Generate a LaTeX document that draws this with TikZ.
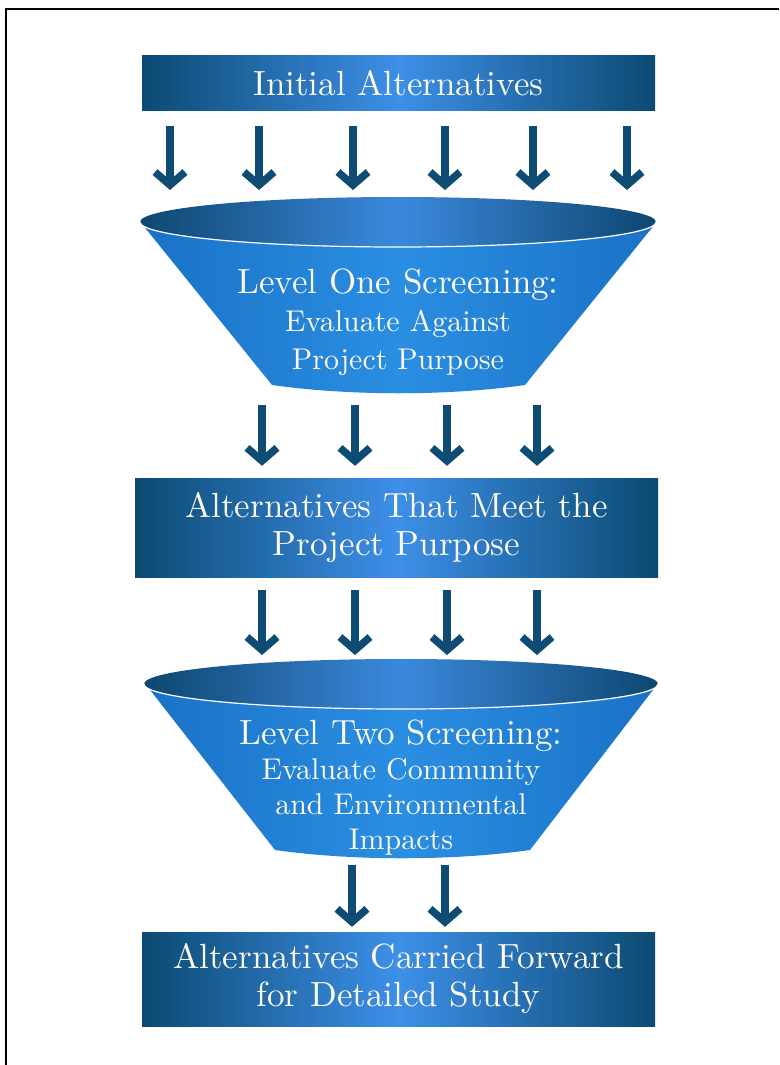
\documentclass[tikz,border=0pt]{standalone}
\usepackage{fontspec}
\setmainfont{lmroman10-regular}[Extension=.otf]
\usepackage{tikz}
\usetikzlibrary{arrows.meta, positioning, calc}

\definecolor{boxdark}{HTML}{0B4A72}
\definecolor{boxlight}{HTML}{3D8FE8}
\definecolor{bodydark}{HTML}{1A72C6}
\definecolor{bodylight}{HTML}{2A8EE2}
\definecolor{rimdark}{HTML}{0E4770}
\definecolor{rimlight}{HTML}{3B89DD}
\definecolor{arrowblue}{HTML}{0E4C73}
\definecolor{cream}{HTML}{FBF8EC}

\begin{document}
\begin{tikzpicture}[
    x=1pt, y=-1pt,
    stagebox/.style={minimum width=513pt, inner sep=0pt, align=center, text=cream,
      left color=boxdark, right color=boxdark, middle color=boxlight,
      font=\fontsize{35}{38}\selectfont},
    funneltext/.style={inner sep=0pt, align=center, text=cream},
    flow/.style={draw=arrowblue, line width=7.5pt, -{Straight Barb[length=13pt, width=30pt]}},
    body/.style={left color=bodydark, right color=bodydark, middle color=bodylight},
    rim/.style={left color=rimdark, right color=rimdark, middle color=rimlight},
]
  \useasboundingbox (0,0) rectangle (779,1065);
  % frame
  \draw[line width=2.5pt] (6,1065) -- (6,9) -- (779,9);

  % Boxes
  \node[stagebox, minimum height=54pt] (init) at (398.5, 83) {Initial Alternatives};
  \node[stagebox, minimum width=523pt, minimum height=99pt] (meet) at (396.5, 527.5)
    {Alternatives That Meet the\\Project Purpose};
  \node[stagebox, minimum height=94pt] (carried) at (398.5, 979)
    {Alternatives Carried Forward\\for Detailed Study};

  % Funnel one
  \shade[body] (142,224) -- (272,385) .. controls (350,396) and (448,396) .. (525,385) -- (655,224) -- cycle;
  \shade[rim] (398,222) ellipse [x radius=258, y radius=25];
  \draw[white, line width=1.2pt] (140,222) arc [start angle=180, end angle=0, x radius=258, y radius=25];
  \coordinate (onetop) at (398,197);
  \coordinate (onebot) at (398,392);
  \node[funneltext, font=\fontsize{30}{38}\selectfont] (lvlone) at (398, 322)
    {{\fontsize{35}{38}\selectfont Level One Screening:}\\Evaluate Against\\Project Purpose};

  % Funnel two
  \shade[body] (147,686) -- (275,850) .. controls (353,861) and (452,861) .. (530,850) -- (656,686) -- cycle;
  \shade[rim] (401,684) ellipse [x radius=257, y radius=25];
  \draw[white, line width=1.2pt] (144,684) arc [start angle=180, end angle=0, x radius=257, y radius=25];
  \coordinate (twotop) at (401,659);
  \coordinate (twobot) at (401,857);
  \node[funneltext, font=\fontsize{30}{35}\selectfont] (lvltwo) at (401, 788)
    {{\fontsize{35}{35}\selectfont Level Two Screening:}\\Evaluate Community\\and Environmental\\Impacts};

  % Arrows
  \foreach \x in {170,259,353,445,533,627}
    \draw[flow, shorten <=16pt, shorten >=7pt] (\x,0 |- init.south) -- (\x,0 |- onetop);
  \foreach \x in {262,355,447,537}
    \draw[flow, shorten <=13pt, shorten >=12pt] (\x,0 |- onebot) -- (\x,0 |- meet.north);
  \foreach \x in {262,355,447,537}
    \draw[flow, shorten <=13pt, shorten >=4pt] (\x,0 |- meet.south) -- (\x,0 |- twotop);
  \foreach \x in {352,445}
    \draw[flow, shorten <=8pt, shorten >=5pt] (\x,0 |- twobot) -- (\x,0 |- carried.north);
\end{tikzpicture}
\end{document}
